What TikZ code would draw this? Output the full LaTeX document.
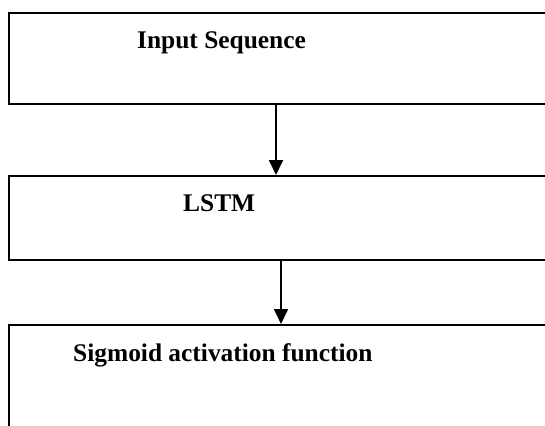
\documentclass[tikz,border=0pt]{standalone}
\usepackage{fontspec}
\setmainfont{Liberation Serif}
\usetikzlibrary{arrows.meta}
\begin{document}
\begin{tikzpicture}[x=1bp,y=-1bp,
  stage/.style={draw,line width=1.8bp,rectangle,inner sep=0pt,anchor=north west},
  label/.style={inner sep=0pt,anchor=base west,font=\bfseries\fontsize{25.5}{30}\selectfont},
  flow/.style={line width=1.8bp,-{Triangle[length=15bp,width=14bp]}}]
  \useasboundingbox (0,0) rectangle (545,425);
  \clip (0,0) rectangle (545,425);
  % stage boxes (run past the right and bottom edges)
  \node[stage,minimum width=560bp,minimum height=91bp] (b1) at (8,12) {};
  \node[stage,minimum width=560bp,minimum height=84bp] (b2) at (8,175) {};
  \node[stage,minimum width=560bp,minimum height=140bp] (b3) at (8,324) {};
  % stage titles
  \node[label] (t1) at (137,48) {Input Sequence};
  \node[label] (t2) at (183,211) {LSTM};
  \node[label] (t3) at (73,361) {Sigmoid activation function};
  % arrows between stages
  \coordinate (a1) at (276,0);
  \coordinate (a2) at (281,0);
  \draw[flow] (b1.south -| a1) -- (b2.north -| a1);
  \draw[flow] (b2.south -| a2) -- (b3.north -| a2);
\end{tikzpicture}
\end{document}
